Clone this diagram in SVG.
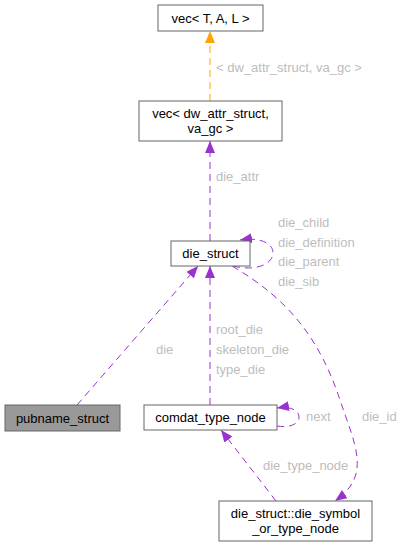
<svg xmlns="http://www.w3.org/2000/svg" width="405" height="547" viewBox="0 0 405 547">
<style>
.n rect{fill:#fff;stroke:#666;stroke-width:1}
.n text{font-family:"Liberation Sans",Arial,sans-serif;font-size:13px;fill:#000;text-anchor:middle}
.e path{fill:none;stroke:#9a32cd;stroke-width:1;stroke-dasharray:7,5}
.e path.o{stroke:#ffa500}
.l{font-family:"Liberation Sans",Arial,sans-serif;font-size:13px;fill:#bdbdbd}
</style>
<defs>
<marker id="ap" viewBox="0 0 12 10" refX="12" refY="5" markerWidth="12" markerHeight="10" markerUnits="userSpaceOnUse" orient="auto"><path d="M0,0 L12,5 L0,10 Z" fill="#9a32cd"/></marker>
<marker id="ao" viewBox="0 0 12 10" refX="12" refY="5" markerWidth="12" markerHeight="10" markerUnits="userSpaceOnUse" orient="auto"><path d="M0,0 L12,5 L0,10 Z" fill="#ffa500"/></marker>
</defs>
<g id="edges" class="e">
<path class="o" d="M210,101 L210,31" marker-end="url(#ao)"/>
<path d="M210,241 L210,141" marker-end="url(#ap)"/>
<path d="M233,266 C258,272 273,263 273,253 C273,243 260,237 240,240" marker-end="url(#ap)"/>
<path d="M77,405 L198,266" marker-end="url(#ap)"/>
<path d="M210,405 L210,266" marker-end="url(#ap)"/>
<path d="M277,426 C290,428 299,424 299,417 C299,410 290,406 277,408" marker-end="url(#ap)"/>
<path d="M232,266 C290,300 320,340 340,400 C355,445 372,475 335,501" marker-end="url(#ap)"/>
<path d="M276,501 L221,430" marker-end="url(#ap)"/>
</g>
<g id="labels">
<text class="l" x="216" y="71.5">&lt; dw_attr_struct, va_gc &gt;</text>
<text class="l" x="216" y="181">die_attr</text>
<text class="l" x="278" y="227">die_child</text>
<text class="l" x="278" y="247">die_definition</text>
<text class="l" x="278" y="266">die_parent</text>
<text class="l" x="278" y="286">die_sib</text>
<text class="l" x="156" y="354">die</text>
<text class="l" x="216" y="334">root_die</text>
<text class="l" x="216" y="354">skeleton_die</text>
<text class="l" x="216" y="374">type_die</text>
<text class="l" x="306" y="421">next</text>
<text class="l" x="362" y="421">die_id</text>
<text class="l" x="263" y="470">die_type_node</text>
</g>
<g id="vec_TAL" class="n"><rect x="158" y="5" width="105" height="26"/><text x="210.5" y="22.5">vec&lt; T, A, L &gt;</text></g>
<g id="vec_dw" class="n"><rect x="139" y="101" width="143" height="40"/><text x="210.5" y="117.5">vec&lt; dw_attr_struct,</text><text x="210.5" y="132.5">va_gc &gt;</text></g>
<g id="die_struct" class="n"><rect x="171" y="241" width="79" height="25"/><text x="210.5" y="258">die_struct</text></g>
<g id="pubname_struct" class="n"><rect x="5" y="405" width="115" height="26" style="fill:#999"/><text x="62.5" y="422.5">pubname_struct</text></g>
<g id="comdat_type_node" class="n"><rect x="144" y="405" width="133" height="25" style="fill:#fff"/><text x="210.5" y="422">comdat_type_node</text></g>
<g id="die_symbol" class="n"><rect x="219" y="501" width="153" height="40"/><text x="295.5" y="517.5">die_struct::die_symbol</text><text x="295.5" y="532.5">_or_type_node</text></g>
</svg>
